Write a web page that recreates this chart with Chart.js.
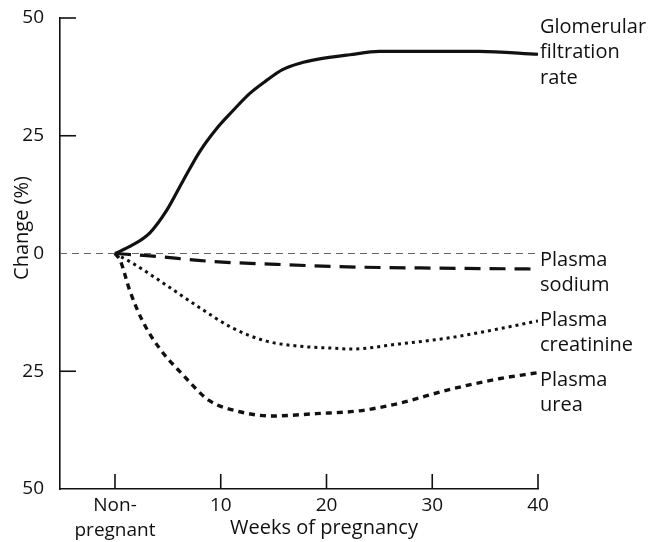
<!DOCTYPE html>
<html>
<head>
<meta charset="utf-8">
<script src="https://cdn.jsdelivr.net/npm/chart.js@4.4.0/dist/chart.umd.min.js"></script>
<style>
  html, body { margin: 0; padding: 0; background: #fff; }
  #wrap { width: 650px; height: 542px; }
</style>
</head>
<body>
<div id="wrap"><canvas id="chart"></canvas></div>
<script>
// ── data ────────────────────────────────────────────────────
const weekTicks = [0, 10, 20, 30, 40];
const changeTicks = [50, 25, 0, -25, -50];

const gfrWeeks  = [0, 1.5, 3.3, 4.9, 6.4, 8.0, 9.6, 11.1, 12.7, 14.3, 15.8, 17.5, 19.1, 22.2, 25, 29.7, 34.4, 40];
const gfrChange = [0, 1.6, 4.4, 9.2, 15.3, 21.6, 26.5, 30.2, 33.9, 36.7, 39.0, 40.4, 41.2, 42.2, 42.9, 42.9, 42.9, 42.3];

const sodiumWeeks  = [0, 3.3, 9.2, 15.3, 21.2, 30, 40];
const sodiumChange = [0, -0.5, -1.7, -2.3, -2.8, -3.1, -3.3];

const creatWeeks  = [0, 1.7, 4.9, 8.0, 11.1, 14.3, 17.5, 20.6, 22.2, 26.9, 31.6, 36.3, 40];
const creatChange = [0, -2.1, -6.8, -11.5, -15.8, -18.6, -19.7, -20.1, -20.3, -19.2, -17.9, -16.0, -14.3];

const ureaWeeks  = [0, 0.5, 1.4, 2.6, 4.2, 6.4, 8.9, 11.8, 14.9, 19.0, 23.1, 26.7, 31.6, 36.3, 40];
const ureaChange = [0, -1.5, -7.9, -14.3, -20.1, -25.7, -31.2, -33.6, -34.5, -34.0, -33.4, -31.9, -28.9, -26.6, -25.3];

const seriesLabels = [
  ['Glomerular', 'filtration', 'rate'],
  ['Plasma', 'sodium'],
  ['Plasma', 'creatinine'],
  ['Plasma', 'urea']
];

const FONT = "'Open Sans', 'DejaVu Sans', sans-serif";
const INK = '#111';

const toXY = (xs, ys) => xs.map((x, i) => ({ x, y: ys[i] }));

function lineSet(label, xs, ys, dash, width) {
  return {
    label,
    data: toXY(xs, ys),
    borderColor: INK,
    borderWidth: width,
    borderDash: dash,
    pointRadius: 0,
    cubicInterpolationMode: 'monotone',
    fill: false
  };
}

// ── inward ticks, zero line, titles, end labels ─────────────
const decorations = {
  id: 'decorations',
  beforeDatasetsDraw(chart) {
    const { ctx, chartArea: a, scales: { x, y } } = chart;
    ctx.save();
    // zero reference line
    ctx.strokeStyle = '#666';
    ctx.lineWidth = 1.2;
    ctx.setLineDash([7, 5]);
    const y0 = y.getPixelForValue(0);
    ctx.beginPath();
    ctx.moveTo(a.left, y0);
    ctx.lineTo(x.getPixelForValue(40), y0);
    ctx.stroke();
    ctx.setLineDash([]);
    // inward tick marks
    ctx.strokeStyle = INK;
    ctx.lineWidth = 1.6;
    changeTicks.filter(v => v !== 0 && v !== -50).forEach(v => {
      const py = y.getPixelForValue(v);
      ctx.beginPath();
      ctx.moveTo(a.left, py);
      ctx.lineTo(a.left + 16, py);
      ctx.stroke();
    });
    weekTicks.forEach(v => {
      const px = x.getPixelForValue(v);
      ctx.beginPath();
      ctx.moveTo(px, a.bottom);
      ctx.lineTo(px, a.bottom - 15);
      ctx.stroke();
    });
    ctx.restore();
  },
  afterDraw(chart) {
    const { ctx } = chart;
    ctx.save();
    ctx.fillStyle = INK;
    ctx.font = `20px ${FONT}`;
    ctx.textBaseline = 'middle';
    // x title
    ctx.textAlign = 'center';
    ctx.fillText('Weeks of pregnancy', 324, 528);
    // y title
    ctx.save();
    ctx.translate(22, 228);
    ctx.rotate(-Math.PI / 2);
    ctx.fillText('Change (%)', 0, 0);
    ctx.restore();
    // end-of-line labels
    ctx.textAlign = 'left';
    const tops = [27, 260, 320, 380];
    seriesLabels.forEach((lines, i) => {
      lines.forEach((t, j) => ctx.fillText(t, 540, tops[i] + j * 25.5));
    });
    ctx.restore();
  }
};

new Chart(document.getElementById('chart'), {
  type: 'line',
  data: {
    datasets: [
      lineSet('Glomerular filtration rate', gfrWeeks, gfrChange, [], 3.2),
      lineSet('Plasma sodium', sodiumWeeks, sodiumChange, [16, 9], 3.2),
      lineSet('Plasma creatinine', creatWeeks, creatChange, [3, 4], 3),
      lineSet('Plasma urea', ureaWeeks, ureaChange, [6, 5], 3.4)
    ]
  },
  options: {
    responsive: true,
    maintainAspectRatio: false,
    animation: false,
    layout: { padding: { top: 18, right: 112, left: 0, bottom: 0 } },
    plugins: { legend: { display: false }, tooltip: { enabled: false } },
    scales: {
      x: {
        type: 'linear',
        min: -5.2,
        max: 40,
        afterBuildTicks: s => { s.ticks = weekTicks.map(v => ({ value: v })); },
        afterFit: s => { s.height = 53; s.paddingLeft = 0; s.paddingRight = 0; },
        grid: { display: false, drawTicks: false },
        border: { display: true, color: INK, width: 1.6 },
        ticks: {
          color: INK,
          padding: 4,
          maxRotation: 0,
          font: { family: FONT, size: 19, lineHeight: 1.32 },
          callback: v => (v === 0 ? ['Non-', 'pregnant'] : String(v))
        }
      },
      y: {
        min: -50,
        max: 50,
        afterBuildTicks: s => { s.ticks = changeTicks.map(v => ({ value: v })); },
        afterFit: s => { s.width = 60; s.paddingTop = 0; s.paddingBottom = 0; },
        grid: { display: false, drawTicks: false },
        border: { display: true, color: INK, width: 1.6 },
        ticks: {
          color: INK,
          padding: 16,
          font: { family: FONT, size: 19 },
          callback: v => String(Math.abs(v))
        }
      }
    }
  },
  plugins: [decorations]
});
</script>
</body>
</html>
